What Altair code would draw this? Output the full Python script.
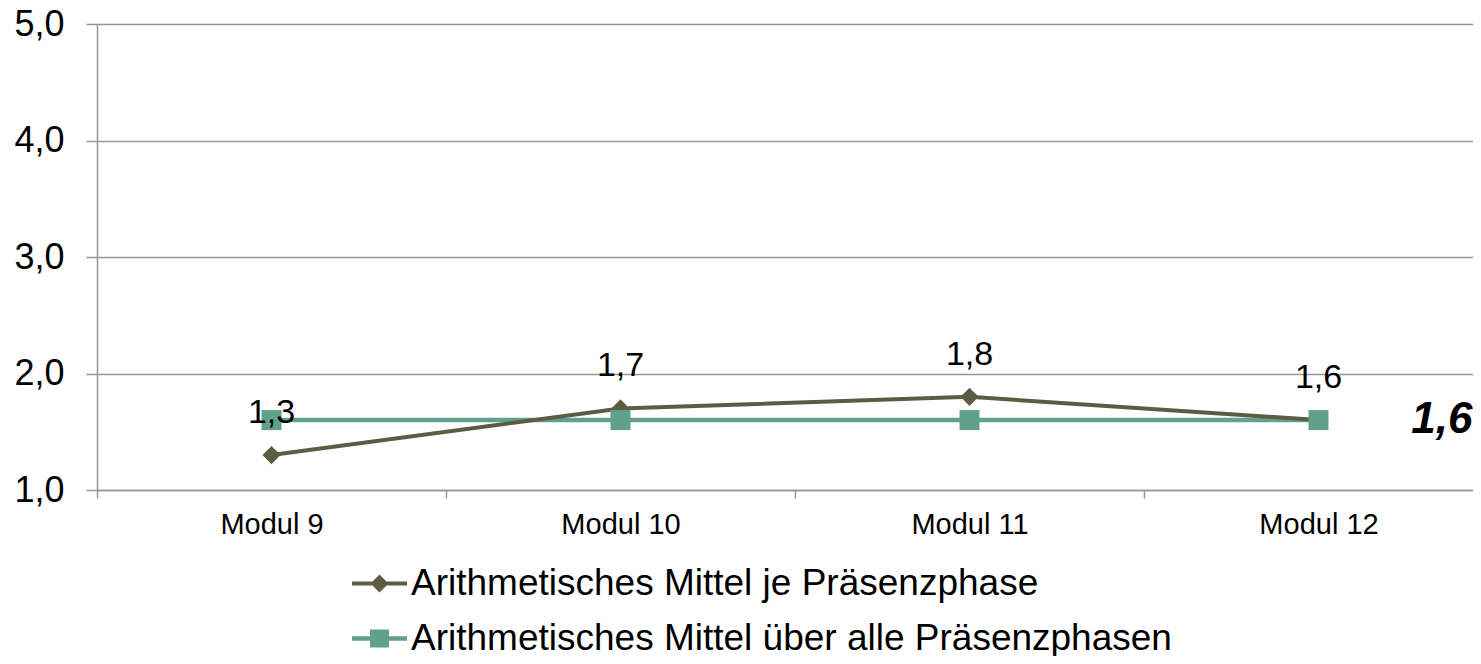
import altair as alt
import pandas as pd

module = ["Modul 9", "Modul 10", "Modul 11", "Modul 12"]
mittel_je_phase = [1.3, 1.7, 1.8, 1.6]
mittel_gesamt = [1.6, 1.6, 1.6, 1.6]
serie_a = "Arithmetisches Mittel je Präsenzphase"
serie_b = "Arithmetisches Mittel über alle Präsenzphasen"
y_ticks = [1, 2, 3, 4, 5]

OLIVE = "#5E5B45"
TEAL = "#62A08E"
GRAY = "#969696"
FONT = "Liberation Sans"

def fmt(v):
    return f"{v:.1f}".replace(".", ",")

df_a = pd.DataFrame({"modul": module, "wert": mittel_je_phase, "serie": serie_a,
                     "label": [fmt(v) for v in mittel_je_phase]})
df_b = pd.DataFrame({"modul": module, "wert": mittel_gesamt, "serie": serie_b,
                     "label": [fmt(v) for v in mittel_gesamt]})

x_enc = alt.X("modul:N", sort=module, bandPosition=0.5,
              scale=alt.Scale(type="band", paddingInner=0, paddingOuter=0, range=[0, 1396]),
              axis=alt.Axis(title=None, labelAngle=0, labelFontSize=29, labelFont=FONT,
                            labelColor="black", tickBand="extent", tickSize=8,
                            tickColor=GRAY, tickWidth=1.5, domainColor=GRAY, domainWidth=1.5,
                            labelPadding=12, grid=False))
y_enc = alt.Y("wert:Q", scale=alt.Scale(domain=[1, 5], nice=False, zero=False),
              axis=alt.Axis(title=None, values=y_ticks,
                            labelExpr="replace(format(datum.value, '.1f'), '.', ',')",
                            labelFontSize=36, labelFont=FONT, labelColor="black",
                            tickSize=11, tickColor=GRAY, tickWidth=1.5,
                            domainColor=GRAY, domainWidth=1.5, labelPadding=22,
                            grid=True, gridColor=GRAY, gridWidth=1.5))

path_a = "M-2.75,-0.2H2.75V0.2H-2.75Z M0,-0.9L0.9,0L0,0.9L-0.9,0Z"
path_b = "M-2.75,-0.22H2.75V0.22H-2.75Z M-0.95,-0.9H0.95V0.9H-0.95Z"

def legend(path, ly):
    return alt.Legend(orient="none", legendX=264, legendY=ly, title=None,
                      symbolType=path, symbolSize=400, labelFontSize=37,
                      labelFont=FONT, labelColor="black", labelLimit=1200,
                      labelOffset=13, padding=0, rowPadding=0)

line_b = alt.Chart(df_b).mark_line(color=TEAL, strokeWidth=4.5).encode(x=x_enc, y=y_enc)
line_a = alt.Chart(df_a).mark_line(color=OLIVE, strokeWidth=4).encode(x=x_enc, y=y_enc)
pts_a = alt.Chart(df_a).mark_point(shape="diamond", filled=True, size=330, opacity=1).encode(
    x=x_enc, y=y_enc,
    color=alt.Color("serie:N", scale=alt.Scale(domain=[serie_a], range=[OLIVE]),
                    legend=legend(path_a, 541)))
pts_b = alt.Chart(df_b).mark_point(shape="square", filled=True, size=400, opacity=1).encode(
    x=x_enc, y=y_enc,
    fill=alt.Fill("serie:N", scale=alt.Scale(domain=[serie_b], range=[TEAL]),
                  legend=legend(path_b, 596)))
txt_a = alt.Chart(df_a).mark_text(dy=-42, fontSize=34, font=FONT, color="black").encode(
    x=x_enc, y=y_enc, text="label:N")
txt_b = alt.Chart(df_b).transform_filter(alt.datum.modul == module[-1]).mark_text(
    dx=154, align="right", baseline="middle", fontSize=44, font=FONT,
    fontWeight="bold", fontStyle="italic", color="black").encode(
    x=x_enc, y=y_enc, text="label:N")

chart = alt.layer(line_b, line_a, pts_a, pts_b, txt_a, txt_b).properties(
    width=1376, height=466,
    autosize=alt.AutoSizeParams(type="none"),
    padding={"left": 89, "top": 16, "right": 0, "bottom": 166},
).configure_view(stroke="transparent")

chart.save("out.html", embed_options={"renderer": "svg", "actions": False})
